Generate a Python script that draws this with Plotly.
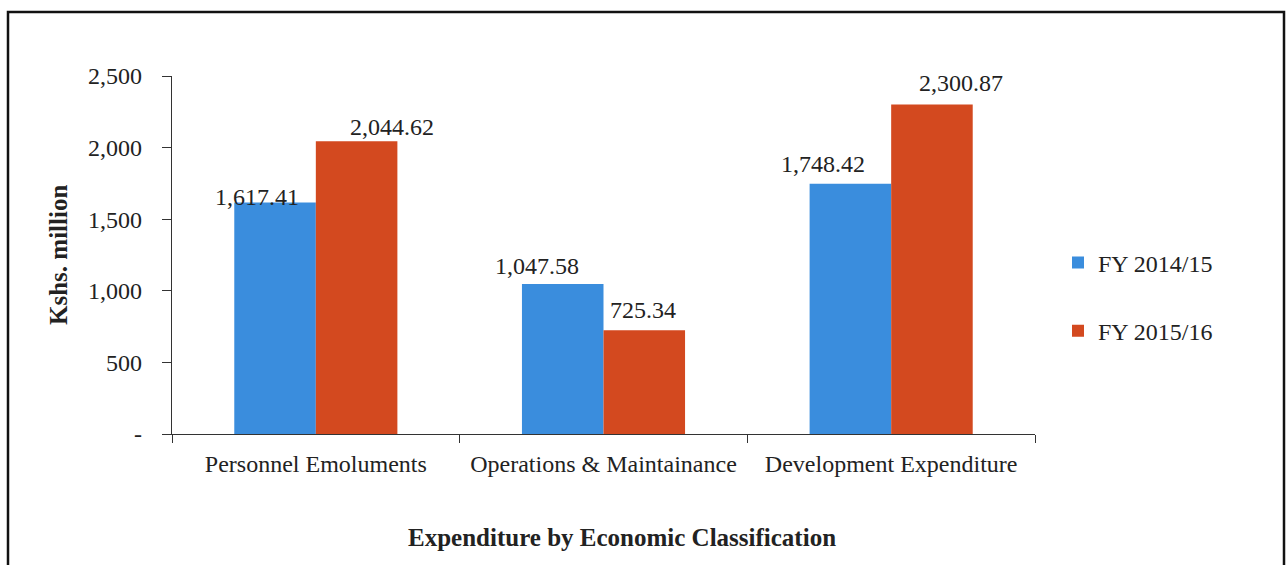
import plotly.graph_objects as go

categories = ["Personnel Emoluments", "Operations & Maintainance", "Development Expenditure"]
fy_2014_15 = [1617.41, 1047.58, 1748.42]
fy_2015_16 = [2044.62, 725.34, 2300.87]
series_names = ["FY 2014/15", "FY 2015/16"]
y_tickvals = [0, 500, 1000, 1500, 2000, 2500]
y_ticktext = ["-", "500", "1,000", "1,500", "2,000", "2,500"]

colors = ["#3A8DDD", "#D3491F"]
FONT = "Liberation Serif"
TXT = "#222222"

# label placement tweaks (pixels): (xshift, yshift) per series per category
label_shift = [
    [(-59, -10), (-67, 3), (-68, 5)],
    [(76, -1), (39, 5), (70, 7)],
]

fig = go.Figure()
for i, (name, vals) in enumerate(zip(series_names, [fy_2014_15, fy_2015_16])):
    fig.add_trace(go.Bar(
        x=categories, y=vals, name=name, marker=dict(color=colors[i], line=dict(width=0)),
        legendgroup=name,
    ))
    for j, v in enumerate(vals):
        dx, dy = label_shift[i][j]
        fig.add_annotation(
            x=categories[j], y=v, xref="x", yref="y", text=f"{v:,.2f}",
            showarrow=False, xanchor="center", yanchor="bottom",
            xshift=dx, yshift=dy, font=dict(family=FONT, size=24, color=TXT),
        )

W, H = 1288, 565
L, T = 172, 76
R = W - 1035
B = H - 434
pw, ph = W - L - R, H - T - B

def px_x(p):
    return (p - L) / pw

def px_y(p):
    return (H - B - p) / ph

fig.update_layout(
    width=W, height=H,
    margin=dict(l=L, r=R, t=T, b=B),
    paper_bgcolor="white", plot_bgcolor="white",
    barmode="group", bargap=0.433, bargroupgap=0,
    font=dict(family=FONT, size=24, color=TXT),
    showlegend=True,
    legend=dict(x=px_x(1058), y=px_y(297), xanchor="left", yanchor="middle",
                font=dict(family=FONT, size=24, color=TXT), tracegroupgap=34,
                bgcolor="rgba(0,0,0,0)", itemwidth=30),
    xaxis=dict(showline=True, linecolor="#333", linewidth=1.3, ticks="outside",
               tickson="boundaries", ticklen=8, tickcolor="#333", showgrid=False,
               tickfont=dict(family=FONT, size=24, color=TXT), ticklabelstandoff=8),
    yaxis=dict(range=[0, 2500], tickvals=y_tickvals, ticktext=y_ticktext,
               showline=True, linecolor="#333", linewidth=1.3, ticks="outside",
               ticklen=9, tickcolor="#333", showgrid=False, zeroline=False,
               tickfont=dict(family=FONT, size=24, color=TXT), ticklabelstandoff=15),
)

fig.add_annotation(text="<b>Kshs. million</b>", x=px_x(58), y=px_y(255), xref="paper", yref="paper",
                   xanchor="center", yanchor="middle",
                   showarrow=False, textangle=-90, font=dict(family=FONT, size=25, color=TXT))
fig.add_annotation(text="<b>Expenditure by Economic Classification</b>", x=px_x(622), y=px_y(537),
                   xref="paper", yref="paper", xanchor="center", yanchor="middle", showarrow=False,
                   font=dict(family=FONT, size=25, color=TXT))

fig.add_shape(type="rect", xref="paper", yref="paper",
              x0=px_x(8), x1=px_x(1284), y0=px_y(580), y1=px_y(12),
              line=dict(color="#111", width=2.5), fillcolor="rgba(0,0,0,0)", layer="below")

fig.write_html(
    "out.html",
    config={"displayModeBar": False},
    post_script="document.body.style.margin='0';document.body.style.overflow='hidden';",
)
